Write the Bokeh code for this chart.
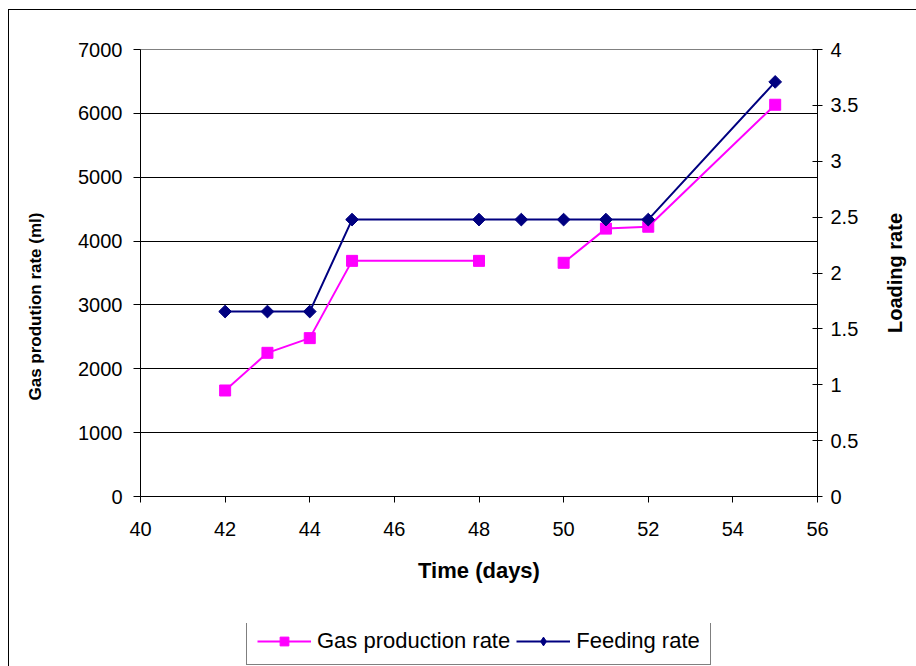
import math
import numpy as np
from bokeh.plotting import figure
from bokeh.layouts import row, column
from bokeh.models import (Range1d, LinearAxis, FixedTicker, NumeralTickFormatter,
                          Legend, LegendItem, ColumnDataSource, Title)
from bokeh.embed import file_html
from bokeh.resources import INLINE

# ---- data ----
days = [42, 43, 44, 45, 48, 49, 50, 51, 52, 55]
gas_production = [1660, 2250, 2480, 3690, 3690, float("nan"), 3660, 4195, 4225, 6135]
feeding_rate = [1.655, 1.655, 1.655, 2.478, 2.478, 2.478, 2.478, 2.478, 2.478, 3.71]

x_ticks = [40, 42, 44, 46, 48, 50, 52, 54, 56]
left_ticks = [0, 1000, 2000, 3000, 4000, 5000, 6000, 7000]
grid_ticks = [1000, 2000, 3000, 4000, 5000, 6000]
right_ticks = [0, 0.5, 1, 1.5, 2, 2.5, 3, 3.5, 4]

FONT = "Liberation Sans"
GAS_COLOR = "#FF00FF"
FEED_COLOR = "#000080"

src = ColumnDataSource(data=dict(day=np.array(days, dtype=float),
                                 gas=np.array(gas_production, dtype=float),
                                 feed=np.array(feeding_rate, dtype=float)))


def blank(fig):
    fig.axis.visible = False
    fig.grid.visible = False
    fig.outline_line_color = None
    fig.background_fill_color = "white"
    fig.border_fill_color = "white"


def add_series(fig, feed_range, legend_style=False):
    gl = fig.line("day", "gas", source=src, line_color=GAS_COLOR, line_width=2)
    gs = fig.scatter("day", "gas", source=src, marker="square", size=11,
                     fill_color=GAS_COLOR, line_color=GAS_COLOR)
    fl = fig.line("day", "feed", source=src, y_range_name=feed_range,
                  line_color=FEED_COLOR, line_width=2)
    if legend_style:
        fs = fig.scatter("day", "feed", source=src, y_range_name=feed_range,
                         marker="diamond", size=13,
                         fill_color=FEED_COLOR, line_color=FEED_COLOR)
    else:
        fs = fig.scatter("day", "feed", source=src, y_range_name=feed_range,
                         marker="square", angle=math.pi / 4, size=9,
                         fill_color=FEED_COLOR, line_color=FEED_COLOR)
    return gl, gs, fl, fs


# ---- main chart ----
p = figure(frame_width=677, frame_height=447, output_backend="svg", toolbar_location=None,
           x_range=Range1d(40, 56), y_range=Range1d(0, 7000),
           min_border_left=86, min_border_right=50, min_border_top=39,
           min_border_bottom=127)
p.background_fill_color = "white"
p.border_fill_color = "white"
p.outline_line_color = "#808080"
p.extra_y_ranges = {"feed": Range1d(0, 4)}

p.xgrid.visible = False
p.ygrid.ticker = FixedTicker(ticks=grid_ticks)
p.ygrid.grid_line_color = "black"
p.ygrid.grid_line_width = 1

xax = p.xaxis[0]
yax = p.yaxis[0]
rax = LinearAxis(y_range_name="feed")
p.add_layout(rax, "right")

xax.ticker = FixedTicker(ticks=x_ticks)
yax.ticker = FixedTicker(ticks=left_ticks)
rax.ticker = FixedTicker(ticks=right_ticks)
rax.formatter = NumeralTickFormatter(format="0.[0]")

for ax in (xax, yax, rax):
    ax.axis_line_color = "black"
    ax.axis_line_width = 1
    ax.major_tick_line_color = "black"
    ax.minor_tick_line_color = None
    ax.major_label_text_font = FONT
    ax.major_label_text_font_size = "20px"
    ax.major_label_text_color = "black"
    ax.axis_label_text_font = FONT
    ax.axis_label_text_font_style = "bold"
    ax.axis_label_text_color = "black"

xax.axis_label = "Time (days)"
xax.axis_label_text_font_size = "22px"
xax.major_tick_in = 0
xax.major_tick_out = 6
xax.major_label_standoff = 19
xax.axis_label_standoff = 19

yax.major_tick_in = 0
yax.major_tick_out = 7
yax.major_label_standoff = 11

rax.major_tick_in = 5
rax.major_tick_out = 5
rax.major_label_standoff = 8

gl, gs, fl, fs = add_series(p, "feed")

# ---- left companion: left axis title ----
p0 = figure(frame_width=5, frame_height=447, output_backend="svg", toolbar_location=None,
            x_range=Range1d(0, 1), y_range=Range1d(0, 1),
            min_border_left=40, min_border_right=0, min_border_top=39, min_border_bottom=0)
blank(p0)
p0.add_layout(Title(text="Gas prodution rate (ml)", text_font=FONT,
                    text_font_style="bold", text_font_size="17px", text_color="black",
                    align="left", offset=96, standoff=10), "left")

# ---- right companion: right axis title ----
p2 = figure(frame_width=9, frame_height=447, output_backend="svg", toolbar_location=None,
            x_range=Range1d(0, 1), y_range=Range1d(0, 1),
            min_border_left=40, min_border_right=0, min_border_top=39, min_border_bottom=0)
blank(p2)
p2.add_layout(Title(text="Loading rate", text_font=FONT, text_font_style="bold",
                    text_font_size="20px", text_color="black", align="center",
                    standoff=4), "left")

# ---- legend strip ----
p3 = figure(frame_width=907, frame_height=43, output_backend="svg", toolbar_location=None,
            x_range=Range1d(0, 1), y_range=Range1d(0, 1),
            min_border_left=0, min_border_right=0, min_border_top=0, min_border_bottom=0)
blank(p3)
p3.extra_y_ranges = {"feed": Range1d(10, 11)}
lgl, lgs, lfl, lfs = add_series(p3, "feed", legend_style=True)
legend = Legend(items=[LegendItem(label="Gas production rate", renderers=[lgl, lgs]),
                       LegendItem(label="Feeding rate", renderers=[lfl, lfs])],
                location=(237, 1), orientation="horizontal",
                border_line_color="black", border_line_width=1,
                background_fill_color="white", background_fill_alpha=1,
                label_text_font=FONT, label_text_font_size="22px",
                label_text_color="black",
                glyph_width=54, glyph_height=22, label_height=22,
                padding=10, spacing=6, label_standoff=6, margin=0)
p3.add_layout(legend, "center")

layout = column(row(p0, p, p2), p3, spacing=0)
layout.margin = (9, 0, 0, 8)
layout.styles = {"border-left": "1px solid black", "border-top": "1px solid black"}

open("out.html", "w").write(file_html(layout, INLINE))
